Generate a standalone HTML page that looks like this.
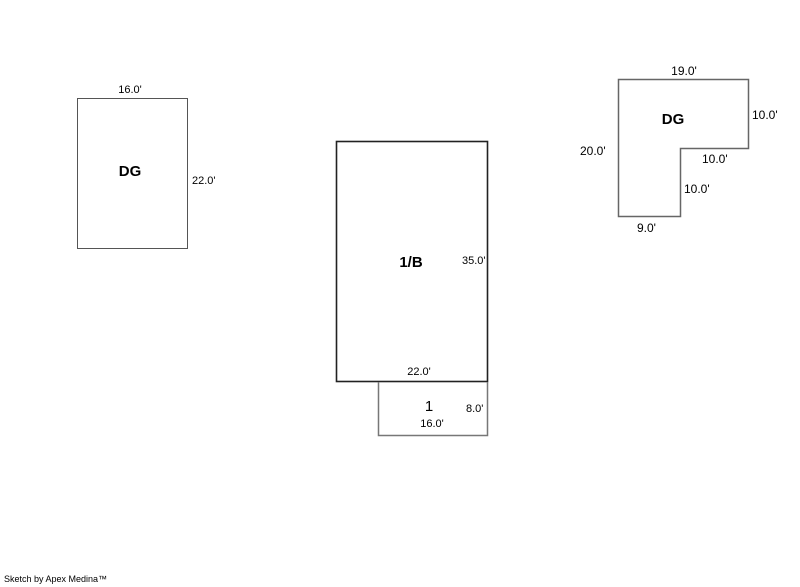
<!DOCTYPE html>
<html><head><style>
html,body{margin:0;padding:0;background:#fff;}
svg{display:block;}
text{font-family:"Liberation Sans",Arial,sans-serif;fill:#000;}
.s{font-size:11px;}
.m{font-size:12px;}
.b{font-size:15px;font-weight:bold;}
</style></head><body>
<svg width="800" height="587" viewBox="0 0 800 587" xmlns="http://www.w3.org/2000/svg">
<rect x="77.5" y="98.5" width="110" height="150" fill="none" stroke="#555" stroke-width="1"/>
<text class="s" x="130" y="93" text-anchor="middle">16.0'</text>
<text class="s" x="192" y="184">22.0'</text>
<text class="b" x="130" y="176" text-anchor="middle">DG</text>

<rect x="336.5" y="141.5" width="151" height="240" fill="none" stroke="#222" stroke-width="1.6"/>
<text class="b" x="411" y="267" text-anchor="middle">1/B</text>
<text class="s" x="462" y="264">35.0'</text>
<text class="s" x="419" y="375" text-anchor="middle">22.0'</text>
<polyline points="378.5,382 378.5,435.5 487.5,435.5 487.5,382" fill="none" stroke="#777" stroke-width="1.5"/>
<text class="b" x="429" y="411" text-anchor="middle" style="font-weight:normal">1</text>
<text class="s" x="466" y="412">8.0'</text>
<text class="s" x="432" y="427" text-anchor="middle">16.0'</text>

<polygon points="618.5,79.5 748.5,79.5 748.5,148.5 680.5,148.5 680.5,216.5 618.5,216.5" fill="none" stroke="#666" stroke-width="1.5"/>
<text class="m" x="684" y="75" text-anchor="middle">19.0'</text>
<text class="b" x="673" y="124" text-anchor="middle">DG</text>
<text class="m" x="752" y="119">10.0'</text>
<text class="m" x="580" y="155">20.0'</text>
<text class="m" x="702" y="163">10.0'</text>
<text class="m" x="684" y="193">10.0'</text>
<text class="m" x="637" y="232">9.0'</text>

<text x="4" y="582" style="font-size:9px">Sketch by Apex Medina™</text>
</svg>
</body></html>
